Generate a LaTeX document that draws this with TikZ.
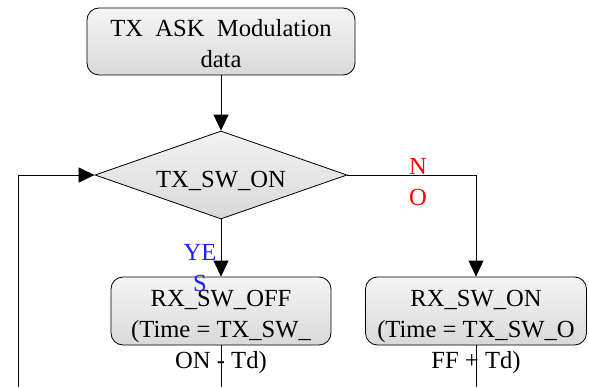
\documentclass[tikz,border=0pt]{standalone}
\usepackage{fontspec}
\setmainfont{Liberation Serif}
\usetikzlibrary{arrows.meta,shapes.geometric}
\definecolor{yesblue}{RGB}{30,30,255}
\definecolor{nored}{RGB}{255,0,0}

\begin{document}
\begin{tikzpicture}[x=0.03cm,y=-0.03cm,line width=0.7pt,
  font=\fontsize{21}{26.4}\selectfont,
  procbox/.style={draw, rounded corners=0.36cm, top color=gray!8, bottom color=gray!30, inner sep=0pt},
  decision/.style={draw, diamond, aspect=2.86, top color=gray!10, bottom color=gray!30, inner sep=0pt,
    minimum width=7.56cm, minimum height=2.64cm},
  flow/.style={-{Triangle[length=0.48cm,width=0.45cm]}},
  boxtext/.style={align=center, inner sep=0pt},
  branch/.style={align=center, inner sep=0pt, font=\fontsize{21}{27}\selectfont}]
\useasboundingbox (0,0) rectangle (589,387);
% boxes
\node[procbox, minimum width=8.04cm, minimum height=2.01cm] (askdata) at (221,41.5) {};
\node[boxtext] (askdatatxt) at (221,43.5) {TX\ \ ASK\ \ Modulation\\data};
\node[decision] (swon) at (221,175) {};
\node[boxtext] (swontxt) at (221,181) {TX\_SW\_ON};
\node[procbox, minimum width=6.6cm, minimum height=2.04cm] (rxoff) at (221,311) {};
\node[boxtext] (rxofftxt) at (221,332) {RX\_SW\_OFF\\(Time = TX\_SW\_\\ON - Td)};
\node[procbox, minimum width=6.63cm, minimum height=2.04cm] (rxon) at (476,311) {};
\node[boxtext] (rxontxt) at (476,332) {RX\_SW\_ON\\(Time = TX\_SW\_O\\FF + Td)};
% free ends at the lower edge
\coordinate (loopin) at (18,387);
\coordinate (offout) at (221,387);
\coordinate (onout) at (476,387);
% connectors
\draw[flow] (askdata.south) -- (swon.north);
\draw[flow] (loopin) |- (swon.west);
\draw[flow] (swon.south) -- (rxoff.north);
\draw[flow] (swon.east) -| (rxon.north);
\draw (rxoff.south) -- (offout);
\draw (rxon.south) -- (onout);
% branch labels
\node[branch, text=yesblue] (yes) at (200,268) {YE\\S};
\node[branch, text=nored] (no) at (418,182) {N\\O};
\end{tikzpicture}
\end{document}
